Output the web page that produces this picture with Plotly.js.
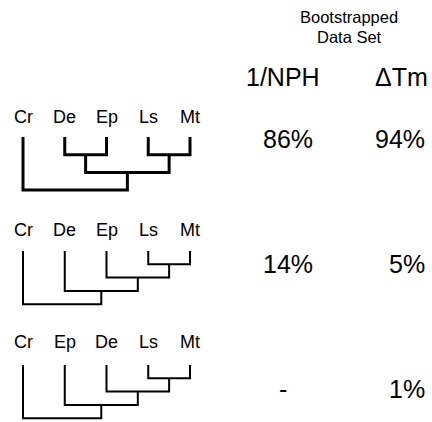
<!DOCTYPE html>
<html>
<head>
<meta charset="utf-8">
<script src="https://cdn.plot.ly/plotly-3.0.1.min.js"></script>
<style>html,body{margin:0;padding:0;background:#fff;}#chart{width:432px;height:422px;}</style>
</head>
<body>
<div id="chart"></div>
<script>
// ---- data ----
const taxaTree1 = ["Cr", "De", "Ep", "Ls", "Mt"];
const taxaTree2 = ["Cr", "De", "Ep", "Ls", "Mt"];
const taxaTree3 = ["Cr", "Ep", "De", "Ls", "Mt"];
// topologies as nested arrays of leaf indices
const topologyTree1 = [0, [[1, 2], [3, 4]]];
const topologyTree2 = [0, [1, [2, [3, 4]]]];
const topologyTree3 = [0, [1, [2, [3, 4]]]];
const headerLines = ["Bootstrapped", "Data Set"];
const methods = ["1/NPH", "\u0394Tm"];
const supportNPH = ["86%", "14%", "-"];
const supportTm = ["94%", "5%", "1%"];

// ---- layout constants ----
const FONT = "Liberation Sans, Arial, Helvetica, sans-serif";
const leafX0 = 23, leafDX = 41.75;
const rows = [
  {taxa: taxaTree1, topo: topologyTree1, labelY: 117, leafTop: 137, step: 17.7, width: 3, valY: 139},
  {taxa: taxaTree2, topo: topologyTree2, labelY: 230, leafTop: 251, step: 13.3, width: 2, valY: 264},
  {taxa: taxaTree3, topo: topologyTree3, labelY: 342, leafTop: 365, step: 13.3, width: 2, valY: 389}
];
const colRight = [315, 427];
const colCenter = [283, 401];

const traces = [];
const annotations = [];

function build(node, row, xs, ys) {
  if (!Array.isArray(node)) {
    return {x: leafX0 + node * leafDX, level: 0};
  }
  const kids = node.map(n => build(n, row, xs, ys));
  const level = Math.max(...kids.map(k => k.level)) + 1;
  const yP = row.leafTop + level * row.step;
  const a = kids[0], b = kids[kids.length - 1];
  const ya = row.leafTop + a.level * row.step;
  const yb = row.leafTop + b.level * row.step;
  xs.push(a.x, a.x, b.x, b.x, null);
  ys.push(ya, yP, yP, yb, null);
  return {x: (a.x + b.x) / 2, level: level};
}

rows.forEach((row, r) => {
  const xs = [], ys = [];
  build(row.topo, row, xs, ys);
  traces.push({
    type: "scatter", mode: "lines", x: xs, y: ys,
    line: {color: "#000", width: row.width}, hoverinfo: "skip", showlegend: false
  });
  row.taxa.forEach((t, i) => {
    annotations.push({
      x: leafX0 + i * leafDX, y: row.labelY, xref: "x", yref: "y",
      text: t, showarrow: false, xanchor: "center", yanchor: "middle",
      font: {family: FONT, size: 18, color: "#000"}
    });
  });
  [supportNPH, supportTm].forEach((col, c) => {
    const v = col[r];
    annotations.push({
      x: v === "-" ? colCenter[c] : colRight[c], y: row.valY, xref: "x", yref: "y",
      text: v, showarrow: false, xanchor: v === "-" ? "center" : "right", yanchor: "middle",
      font: {family: FONT, size: 25, color: "#000"}
    });
  });
});

headerLines.forEach((t, i) => {
  annotations.push({
    x: 349, y: 17 + i * 19.5, xref: "x", yref: "y", text: t, showarrow: false,
    xanchor: "center", yanchor: "middle", borderpad: 0,
    font: {family: FONT, size: 16.5, color: "#000"}
  });
});
methods.forEach((t, i) => {
  annotations.push({
    x: colCenter[i], y: 77, xref: "x", yref: "y", text: t, showarrow: false,
    xanchor: "center", yanchor: "middle", font: {family: FONT, size: 25, color: "#000"}
  });
});

const layout = {
  width: 432, height: 422, autosize: false,
  margin: {l: 0, r: 0, t: 0, b: 0, pad: 0},
  paper_bgcolor: "#fff", plot_bgcolor: "#fff",
  xaxis: {range: [0, 432], visible: false, fixedrange: true},
  yaxis: {range: [422, 0], visible: false, fixedrange: true},
  annotations: annotations,
  showlegend: false
};
Plotly.newPlot("chart", traces, layout, {staticPlot: true, displayModeBar: false});
</script>
</body>
</html>
